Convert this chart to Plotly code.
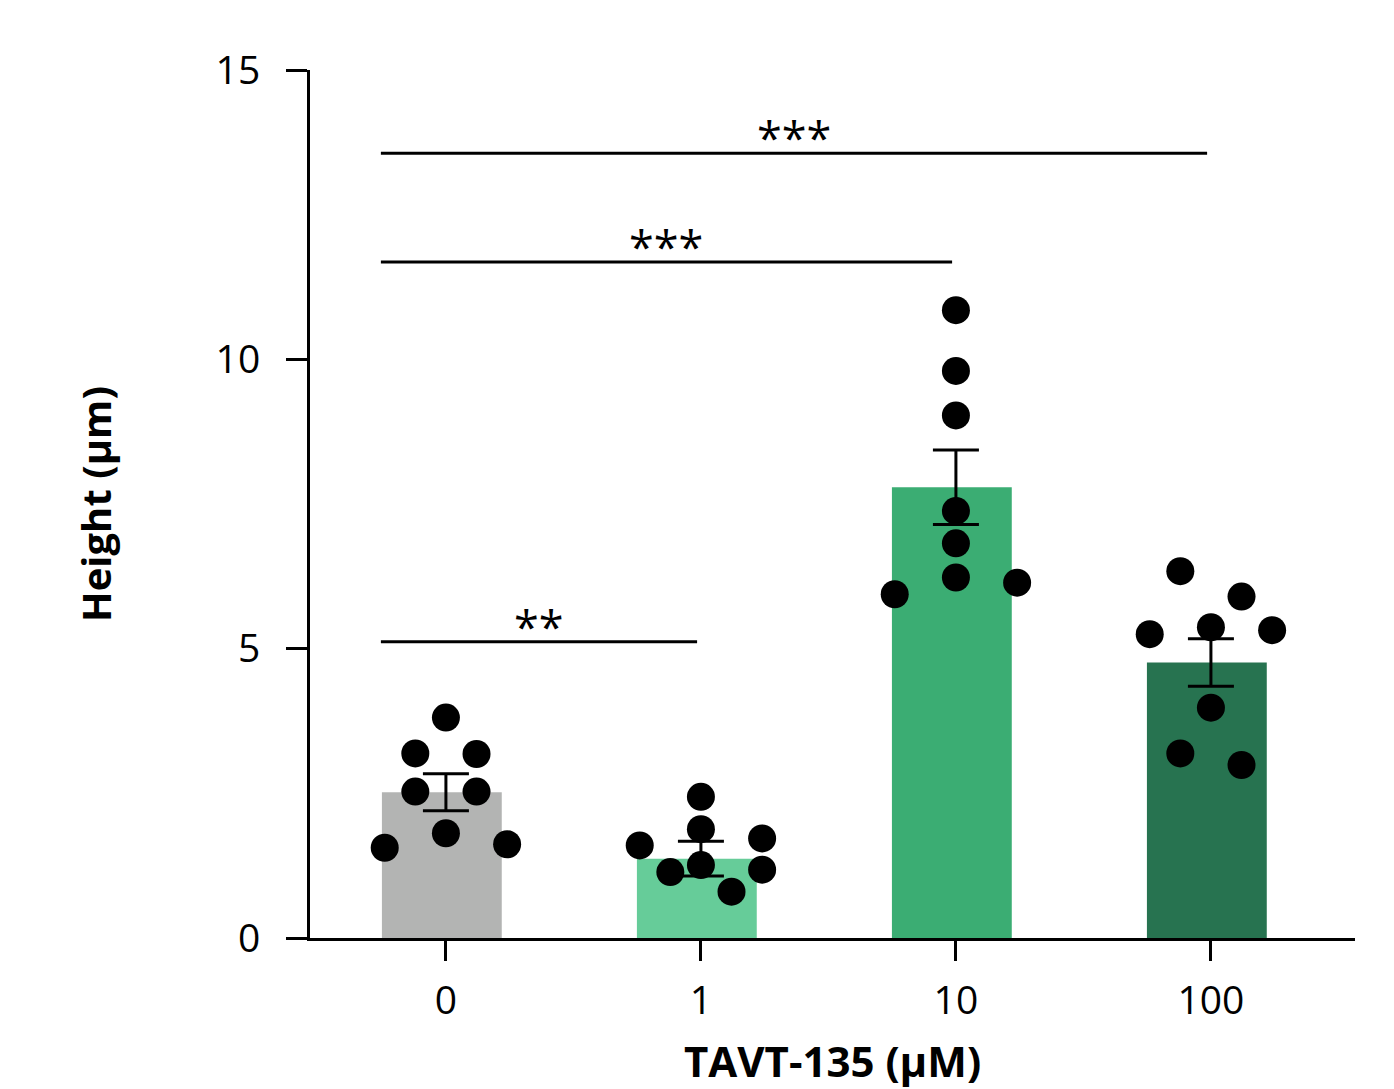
import plotly.graph_objects as go

# ---------------- data ----------------
categories = ["0", "1", "10", "100"]
bar_means = [2.52, 1.37, 7.79, 4.76]
bar_sems = [0.32, 0.30, 0.645, 0.41]
points_0 = [3.81, 3.18, 3.19, 2.53, 2.53, 1.81, 1.56, 1.62]
points_1 = [2.44, 1.88, 1.72, 1.60, 1.26, 1.18, 1.14, 0.80]
points_10 = [10.85, 9.80, 9.03, 7.38, 6.82, 6.23, 6.14, 5.94]
points_100 = [6.34, 5.90, 5.37, 5.32, 5.25, 3.98, 3.19, 2.99]
comparisons = [(0, 1, "**"), (0, 2, "***"), (0, 3, "***")]
x_title = "TAVT-135 (μM)"
y_title = "Height (μm)"

# ---------------- style / layout ----------------
bar_colors = ["#b3b4b3", "#66cc99", "#3bad73", "#277350"]
W, H = 1394, 1089
M = dict(l=310, r=39, t=70, b=151)
X_RANGE = [-0.533, 3.565]
Y_RANGE = [0, 15]
BAR_W = 0.47
DOT = 28
sig_levels = [5.12, 11.68, 13.56]
FONT = "Open Sans"

ppx = (W - M["l"] - M["r"]) / (X_RANGE[1] - X_RANGE[0])
ppy = (H - M["t"] - M["b"]) / (Y_RANGE[1] - Y_RANGE[0])


def swarm(values, row_gap=0.45, step=0.24):
    """Simple row-based beeswarm: spread near-equal values horizontally."""
    order = sorted(range(len(values)), key=lambda i: -values[i])
    rows = []
    for i in order:
        if rows and values[rows[-1][0]] - values[i] < row_gap:
            rows[-1].append(i)
        else:
            rows.append([i])
    offs = [0.0] * len(values)
    placed = []

    def collides(x, y):
        for px_, py_ in placed:
            if ((x - px_) * ppx) ** 2 + ((y - py_) * ppy) ** 2 < DOT ** 2:
                return True
        return False

    for row in rows:
        n = len(row)
        if n % 2 == 1:
            # centre first, then alternate right / left
            slots = [0]
            for k in range(1, n // 2 + 1):
                slots += [k, -k]
            bases = [s * step for s in slots]
        else:
            bases = [(k - (n - 1) / 2) * step for k in range(n)]
        for k, i in enumerate(row):
            base = bases[k]
            cands = [base] + [base + s * step / 2 for s in (1, -1, 2, -2, 3, -3)]
            c = base
            for c in cands:
                if not collides(c, values[i]):
                    break
            offs[i] = c
            placed.append((c, values[i]))
    return offs


groups = [points_0, points_1, points_10, points_100]
idx = list(range(len(categories)))

fig = go.Figure()

fig.add_trace(go.Bar(
    x=idx, y=bar_means, width=BAR_W, offset=-BAR_W / 2 - 0.016,
    marker=dict(color=bar_colors, line=dict(width=0)),
    showlegend=False, hoverinfo="skip",
))

fig.add_trace(go.Scatter(
    x=idx, y=bar_means, mode="markers",
    marker=dict(size=1, opacity=0),
    error_y=dict(type="data", array=bar_sems, visible=True,
                 color="black", thickness=3, width=23),
    showlegend=False, hoverinfo="skip",
))

for gi, vals in enumerate(groups):
    offs = swarm(vals)
    fig.add_trace(go.Scatter(
        x=[gi + o for o in offs], y=vals, mode="markers",
        marker=dict(size=DOT, color="black", line=dict(width=0)),
        showlegend=False,
    ))

shapes = []
annotations = []
for (a, b, label), lvl in zip(comparisons, sig_levels):
    x0 = a - BAR_W / 2 - 0.02
    x1 = b - 0.015
    shapes.append(dict(type="line", xref="x", yref="y", x0=x0, x1=x1,
                       y0=lvl, y1=lvl, line=dict(color="black", width=3)))
    annotations.append(dict(x=(x0 + x1) / 2, y=lvl, xref="x", yref="y",
                            text=label, showarrow=False, yanchor="bottom",
                            yshift=-17,
                            font=dict(family=FONT, size=45, color="black")))

# x-axis title as a paper annotation so it can sit low like the original
annotations.append(dict(x=0.5, y=0, xref="paper", yref="paper",
                        text=x_title, showarrow=False,
                        xanchor="center", yanchor="top", yshift=-92,
                        font=dict(family=FONT, size=42, color="black",
                                  weight="bold")))

fig.update_layout(
    width=W, height=H, margin=M,
    paper_bgcolor="white", plot_bgcolor="white",
    shapes=shapes, annotations=annotations,
    font=dict(family=FONT, color="black"),
    xaxis=dict(
        range=X_RANGE, tickvals=idx, ticktext=categories,
        showgrid=False, zeroline=False,
        showline=True, linecolor="black", linewidth=3,
        ticks="outside", ticklen=20, tickwidth=3, tickcolor="black",
        ticklabelstandoff=6,
        tickfont=dict(family=FONT, size=39, color="black"),
        automargin=False,
    ),
    yaxis=dict(
        range=Y_RANGE, tickvals=[0, 5, 10, 15],
        showgrid=False, zeroline=False,
        showline=True, linecolor="black", linewidth=3,
        ticks="outside", ticklen=21, tickwidth=3, tickcolor="black",
        ticklabelstandoff=18,
        tickfont=dict(family=FONT, size=39, color="black"),
        title=dict(text=y_title, standoff=92,
                   font=dict(family=FONT, size=40, color="black", weight="bold")),
        automargin=False,
    ),
)

fig.write_html("out.html")
